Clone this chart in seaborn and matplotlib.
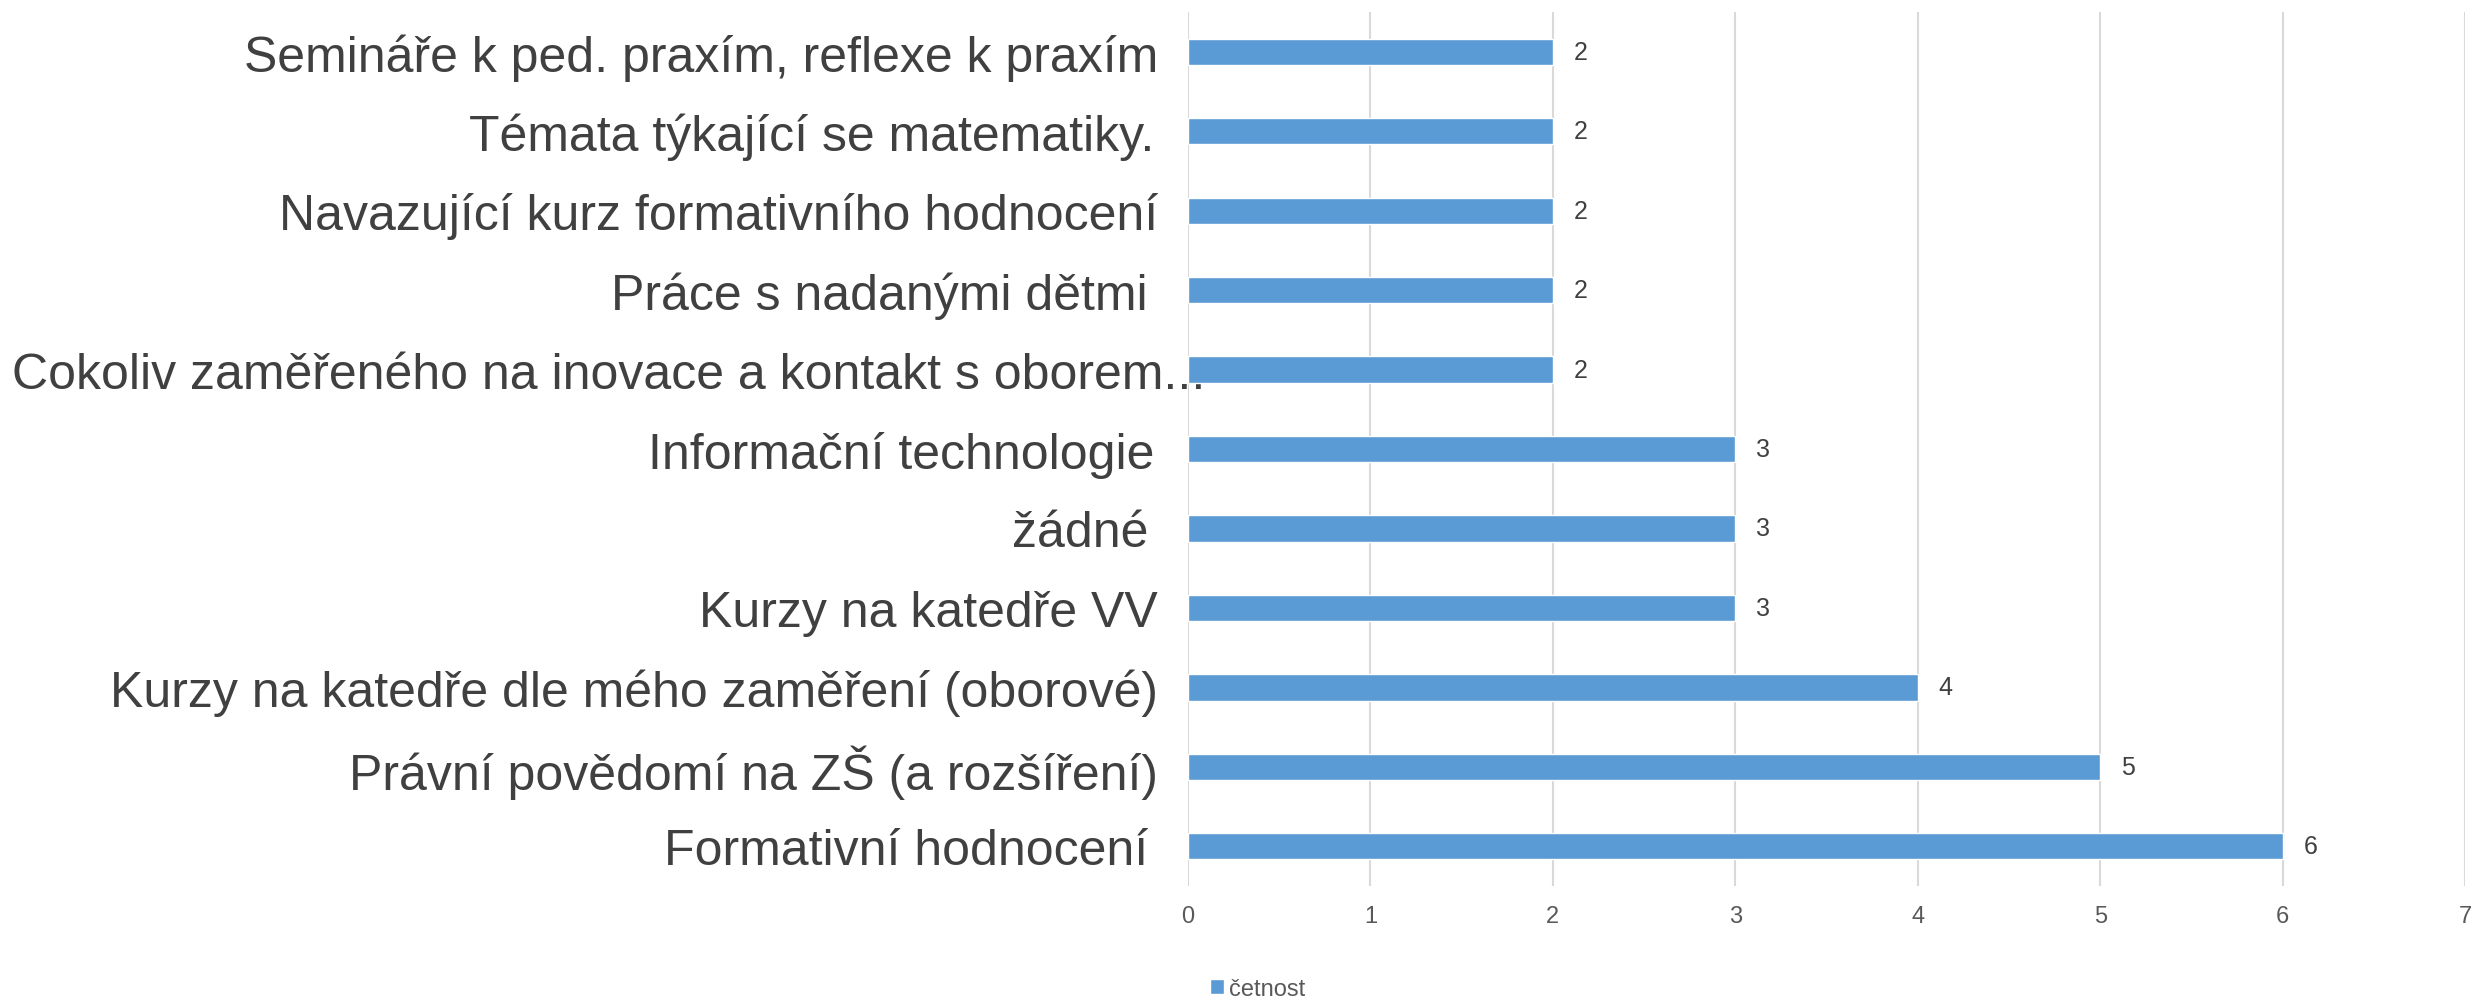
import matplotlib
matplotlib.use("Agg")
import matplotlib.pyplot as plt
import matplotlib.transforms as mtransforms
import pandas as pd
import seaborn as sns

# categories top -> bottom, as in the picture
kategorie = [
    "Semináře k ped. praxím, reflexe k praxím",
    "Témata týkající se matematiky.\u200a",
    "Navazující kurz formativního hodnocení",
    "Práce s nadanými dětmi\u2009",
    "Cokoliv zaměřeného na inovace a kontakt s oborem...",
    "Informační technologie\u200a",
    "žádné\u2009",
    "Kurzy na katedře VV",
    "Kurzy na katedře dle mého zaměření (oborové)",
    "Právní povědomí na ZŠ (a rozšíření)",
    "Formativní hodnocení\u2009",
]
cetnost = [2, 2, 2, 2, 2, 3, 3, 3, 4, 5, 6]
x_ticks = [0, 1, 2, 3, 4, 5, 6, 7]

df = pd.DataFrame({"kategorie": kategorie, "četnost": cetnost})

sns.set_style("white")
plt.rcParams["font.family"] = ["Liberation Sans", "DejaVu Sans"]

fig = plt.figure(figsize=(24.81, 10.04), dpi=100)
ax = fig.add_axes([0.4788, 0.1165, 0.5148, 0.8705])

sns.barplot(data=df, x="četnost", y="kategorie", orient="h", color="#5b9bd5",
            saturation=1, width=0.33, ax=ax, label="četnost")

ax.set_xlim(0, 7)
ax.set_ylim(10.5, -0.5)
ax.set_xticks(x_ticks)
ax.set_xlabel("")
ax.set_ylabel("")
ax.xaxis.grid(True, color="#d9d9d9", linewidth=1.5)
ax.set_axisbelow(True)
for s in ax.spines.values():
    s.set_visible(False)

ax.tick_params(axis="x", length=0, pad=14, labelsize=17, labelcolor="#595959")
ax.tick_params(axis="y", length=0, pad=21.5, labelsize=36, labelcolor="#404040")

# the long label runs over the axis in the original
for lbl in ax.get_yticklabels():
    if lbl.get_text().startswith("Cokoliv"):
        lbl.set_transform(lbl.get_transform() +
                          mtransforms.ScaledTranslation(0.47, 0, fig.dpi_scale_trans))

ax.bar_label(ax.containers[0], padding=15, fontsize=18, color="#404040")

handles, labels = ax.get_legend_handles_labels()
leg = fig.legend(handles, labels, loc="center", bbox_to_anchor=(0.507, 0.014),
                 frameon=False, fontsize=17, handlelength=0.6, handleheight=0.6,
                 handletextpad=0.2, labelcolor="#595959", borderpad=0.1)
if ax.get_legend() is not None:
    ax.get_legend().remove()

fig.savefig("out.png", dpi=100)
